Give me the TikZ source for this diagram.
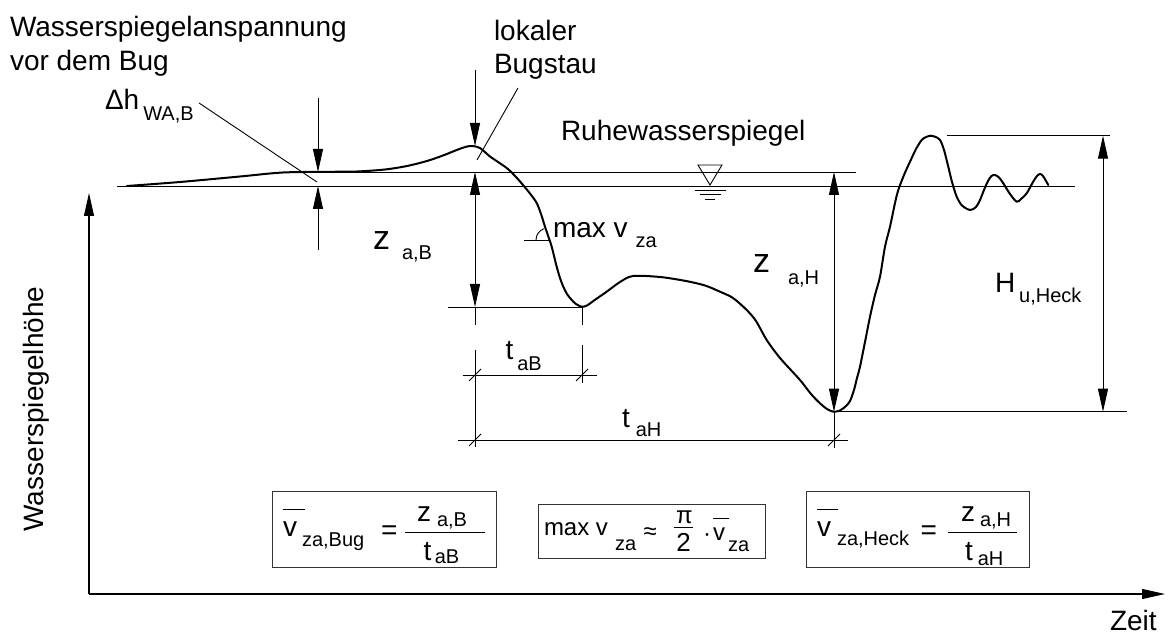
\documentclass[tikz,border=0pt]{standalone}
\usepackage{fontspec}
\setmainfont{Liberation Sans}
\usetikzlibrary{arrows.meta}
\newcommand\subf{\fontsize{20}{24}\selectfont}
\newcommand\lbl[4]{#1\hspace*{#2}\raisebox{-#3}{\subf #4}}
\newcommand\ovv[2]{\rlap{\rule[#1]{#2}{1pt}}v}
\newcommand\bigz{{\fontsize{34}{40}\selectfont z}}
\begin{document}
\begin{tikzpicture}[x=1pt,y=-1pt,
  every node/.style={inner sep=0pt, outer sep=0pt, font=\fontsize{28}{33}\selectfont},
  lbl/.style={anchor=base west},
  smallf/.style={font=\fontsize{24}{29}\selectfont},
  thin/.style={line width=0.9pt},
  curve/.style={line width=2pt, line join=round, line cap=round},
  dim/.style={thin, -{Triangle[length=23pt,width=10pt]}},
  dimboth/.style={thin, {Triangle[length=23pt,width=10pt]}-{Triangle[length=23pt,width=10pt]}},
  axis/.style={line width=1.1pt, -{Triangle[length=23pt,width=10pt]}},
  frame/.style={draw=black!80, line width=1pt},
]
\useasboundingbox (0,0) rectangle (1168,636);

% axes
\coordinate (O) at (89,594);
\coordinate (Ytop) at (89,193);
\coordinate (Xend) at (1165,594);
\draw[axis] (O) -- (Ytop);
\draw[axis] (O) -- (Xend);
\node[lbl] (zeit) at (1110,630) {Zeit};
\node[anchor=base, rotate=90] (wsh) at (43,409) {Wasserspiegelhöhe};

% labels
\node[lbl] (t1) at (10,37) {Wasserspiegelanspannung};
\node[lbl] (t2) at (10,71) {vor dem Bug};
\node[lbl] (lok) at (494,41) {lokaler};
\node[lbl] (bst) at (494,74) {Bugstau};
\node[lbl] (dh) at (105,110) {\lbl{Δh}{4pt}{11pt}{WA,B}};
\node[lbl] (ruhe) at (561,140.7) {Ruhewasserspiegel};
\node[lbl] (zaB) at (373,250) {\lbl{\bigz}{12pt}{10pt}{a,B}};
\node[lbl] (zaH) at (753,273) {\lbl{\bigz}{18pt}{12pt}{a,H}};
\node[lbl] (Hu) at (995,293) {\lbl{H}{4pt}{10pt}{u,Heck}};
\node[lbl] (maxv) at (553,237.7) {\lbl{max v}{8pt}{10pt}{za}};
\node[lbl] (taB) at (505.5,360) {\lbl{t}{4pt}{10pt}{aB}};
\node[lbl] (taH) at (622,428) {\lbl{t}{6pt}{9pt}{aH}};

% water levels
\draw[thin] (300,172) -- (856,172);
\draw[thin] (117,186) -- (1075,186);
\draw[thin] (698,165) -- (722,165) -- (710,185) -- cycle;
\draw[thin] (695,190) -- (726,190) (700,194.5) -- (721,194.5) (705,199) -- (715,199);

% delta h
\coordinate (dhA) at (199,103);
\coordinate (dhB) at (317,182);
\draw[thin] (dhA) -- (dhB);
\draw[dim] (318,98) -- (318,172);
\draw[dim] (318,250) -- (318,186);

% Bugstau
\coordinate (bsA) at (518,88);
\coordinate (bsB) at (477,160);
\draw[thin] (bsA) -- (bsB);
\draw[dim] (475,70) -- (475,146);
\draw[dimboth] (475,172) -- (475,307);
\draw[thin] (475,307) -- (475,325) (475,350) -- (475,447);
\draw[thin] (448,307) -- (582,307);
\draw[thin] (582,307) -- (582,325) (582,345) -- (582,383);

% t_aB, t_aH
\draw[thin] (462.7,375) -- (596.7,375);
\draw[thin] (469,381) -- (481,369) (576,381) -- (588,369);
\draw[thin] (458,440) -- (848,440);
\draw[thin] (469,446) -- (481,434) (828,446) -- (840,434);

% z_a,H and H_u,Heck
\draw[dimboth] (834,172) -- (834,411.7);
\draw[thin] (834,411.7) -- (834,448);
\draw[thin] (834,411.7) -- (1127,411.7);
\draw[dimboth] (1103,135.7) -- (1103,411.7);
\draw[thin] (947,135.7) -- (1110,135.7);

% angle mark
\draw[thin] (524,240) -- (549,240);
\draw[thin] (536,240) arc[start angle=180, end angle=251, radius=12];

% curve
\draw[curve] plot[smooth, tension=0.5] coordinates {
(127,186) (180,182) (240,176.5) (283,172.5) (330,171.8) (357,171.5) (385,169.5)
(407,166) (427,161) (443,155.5) (458,149.5) (466,146.8) (472,146) (480,148)
(490,156.5) (506.7,168) (516,177) (523,185) (530,193.5) (536.7,203) (541,214)
(545,226.7) (548.5,237) (551.7,246.7) (556.7,266.7) (560,278) (563.3,286.7)
(567,294) (571.7,300) (576,304) (581.7,306.7) (587,305.5) (594,300.5)
(606.7,291.7) (620,282) (633,276) (660,277) (686,281) (705,285.5) (720,291.7)
(733,298) (746.7,310) (756,321) (766.7,340) (780,358) (800,380) (811,394)
(820,403.3) (827,409) (833.5,411.7) (840,410.5) (846,406) (850,401) (854,390)
(857,378) (860,366.7) (865,342) (870,316.7) (875,295) (880,276.7) (885,246.7)
(890,226.7) (895,203) (898.3,190) (904,175) (910,161.7) (916,149) (921.7,140)
(926,137) (930,135.7) (935,136.7) (940,140) (944,150) (948.3,166.7) (952,182)
(956.7,196.7) (962,205.5) (970,210) (976,207) (980,200) (984,190) (988,181)
(991.5,176) (995,175) (999,177.5) (1003.3,183.3) (1010,194) (1016.7,201.7)
(1021,199) (1026.7,193.3) (1033,182) (1037,176) (1040,174) (1043,176) (1048.3,185)};

% box 1
\node[frame, minimum width=223.3pt, minimum height=75.6pt] (box1) at (384.35,529.5) {};
\node[lbl] (v1) at (283,536) {\lbl{\ovv{26pt}{22pt}}{5pt}{10.7pt}{za,Bug}};
\node[lbl] (eq1) at (381,539) {=};
\node[lbl] (n1) at (417,521.7) {\lbl{z}{6pt}{5pt}{a,B}};
\draw[thin] (405,532.7) -- (485,532.7);
\node[lbl] (d1) at (423.5,560) {\lbl{t}{3.5pt}{3.3pt}{aB}};

% box 2
\node[frame, minimum width=226.7pt, minimum height=54pt] (box2) at (651.65,531.3) {};
\node[lbl, smallf] (mx2) at (544,535) {\lbl{max v}{7pt}{15.7pt}{za}};
\node[lbl, smallf] (ap2) at (643.5,539) {≈};
\node[anchor=base, smallf] (pi2) at (684.5,523) {π};
\draw[thin] (674,527.7) -- (693,527.7);
\node[anchor=base, font=\fontsize{26}{30}\selectfont] (two2) at (683.5,551.7) {2};
\node[anchor=base, smallf] (dot2) at (707,541) {·};
\node[lbl, smallf] (vb2) at (713,540) {\lbl{\ovv{20.7pt}{16pt}}{3pt}{11.7pt}{za}};

% box 3
\node[frame, minimum width=222.6pt, minimum height=75.6pt] (box3) at (918,529.5) {};
\node[lbl] (v3) at (817,536) {\lbl{\ovv{26pt}{20.6pt}}{6pt}{9pt}{za,Heck}};
\node[lbl] (eq3) at (920.5,539) {=};
\node[lbl] (n3) at (961,521.7) {\lbl{z}{5pt}{5pt}{a,H}};
\draw[thin] (948,532.7) -- (1016.7,532.7);
\node[lbl] (d3) at (965,560) {\lbl{t}{5pt}{5pt}{aH}};
\end{tikzpicture}
\end{document}
